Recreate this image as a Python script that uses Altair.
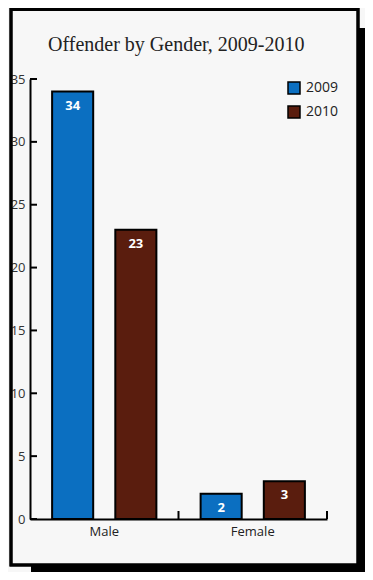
import altair as alt
import pandas as pd

categories = ["Male", "Female"]
years = ["2009", "2010"]
values_2009 = [34, 2]
values_2010 = [23, 3]
y_ticks = [0, 5, 10, 15, 20, 25, 30, 35]
title_text = ["Offender by Gender, 2009-2010"]

BLUE = "#0b6fc1"
BROWN = "#5a1d0e"

rows = []
for i, c in enumerate(categories):
    rows.append({"gender": c, "year": "2009", "value": values_2009[i]})
    rows.append({"gender": c, "year": "2010", "value": values_2010[i]})
df = pd.DataFrame(rows)
cat_df = pd.DataFrame({"gender": categories})
tick_df = pd.DataFrame({"t": y_ticks})
title_df = pd.DataFrame({"title": title_text})

W, H = 297, 440

x_enc = alt.X("gender:N", sort=categories,
              scale=alt.Scale(paddingInner=0, paddingOuter=0),
              axis=alt.Axis(title=None, labelAngle=0, tickSize=0, domainColor="black",
                            domainWidth=2, labelFont="Open Sans", labelFontSize=13,
                            labelColor="#222", labelPadding=6))
y_enc = alt.Y("value:Q", scale=alt.Scale(domain=[0, 35], nice=False),
              axis=alt.Axis(title=None, values=y_ticks, tickSize=0, grid=False,
                            domainColor="black", domainWidth=2, labelFont="Open Sans",
                            labelFontSize=13, labelColor="#333", labelPadding=5))

bars = alt.Chart(df).mark_bar(stroke="black", strokeWidth=2).encode(
    x=x_enc,
    xOffset=alt.XOffset("year:N", sort=years,
                        scale=alt.Scale(paddingInner=0.35, paddingOuter=0.35)),
    y=y_enc,
    color=alt.Color("year:N", sort=years,
                    scale=alt.Scale(domain=years, range=[BLUE, BROWN]),
                    legend=alt.Legend(title=None, orient="none", legendX=257, legendY=2,
                                      symbolType="square", symbolSize=144,
                                      symbolStrokeColor="black", symbolStrokeWidth=1.5,
                                      labelFont="Open Sans", labelFontSize=14,
                                      labelColor="#222", labelOffset=5, rowPadding=6)),
)

labels = alt.Chart(df).mark_text(color="white", font="Open Sans", fontWeight="bold",
                                 fontSize=13, baseline="middle", dy=14).encode(
    x=alt.X("gender:N", sort=categories),
    xOffset=alt.XOffset("year:N", sort=years),
    y=alt.Y("value:Q"),
    text=alt.Text("value:Q"),
)

xticks = alt.Chart(cat_df).mark_rule(color="black", strokeWidth=2).encode(
    x=alt.X("gender:N", sort=categories, bandPosition=1),
    y=alt.value(H - 8),
    y2=alt.value(H),
)

yticks = alt.Chart(tick_df).mark_rule(color="black", strokeWidth=2).encode(
    y=alt.Y("t:Q"),
    x=alt.value(0),
    x2=alt.value(7),
)

title = alt.Chart(title_df).mark_text(font="Liberation Serif", fontSize=20, color="#222",
                                      align="left", baseline="alphabetic").encode(
    text="title:N", x=alt.value(18), y=alt.value(-28)
)

frame = alt.Chart(cat_df).mark_rect(filled=False, stroke="black", strokeWidth=3).encode(
    x=alt.value(-19), x2=alt.value(328), y=alt.value(-69.5), y2=alt.value(486)
)
shadow_r = alt.Chart(cat_df).mark_rect(color="black").encode(
    x=alt.value(328), x2=alt.value(336), y=alt.value(-51), y2=alt.value(494)
)
shadow_b = alt.Chart(cat_df).mark_rect(color="black").encode(
    x=alt.value(1), x2=alt.value(336), y=alt.value(486), y2=alt.value(494)
)

chart = alt.layer(bars, labels, xticks, yticks, title, frame, shadow_r, shadow_b).properties(
    width=W, height=H,
    autosize=alt.AutoSizeParams(type="none"),
    padding={"left": 22, "top": 71, "right": 38, "bottom": 53},
    background="#f7f7f7",
).configure_view(stroke=None)

chart.save("out.html", embed_options={"renderer": "svg", "actions": False})
